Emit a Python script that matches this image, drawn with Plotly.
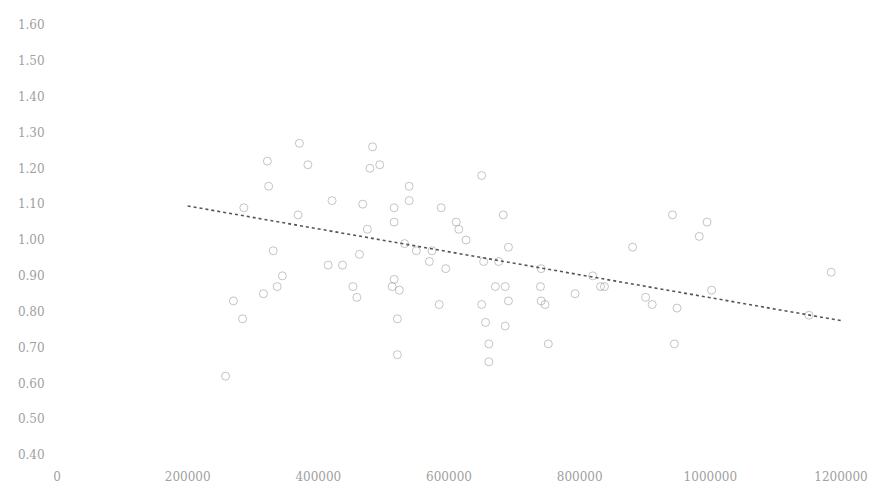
import plotly.graph_objects as go

# Scatter data (x = value, y = ratio)
x_vals = [
    371000, 483000, 322000, 384000, 494000, 479000, 324000, 539000, 421000, 539000,
    286000, 369000, 468000, 516000, 588000, 516000, 475000, 532000, 550000, 574000,
    331000, 437000, 516000, 513000, 570000, 524000, 463000, 415000, 650000, 611000,
    683000, 615000, 626000, 691000, 676000, 653000, 595000, 741000, 820000, 671000,
    686000, 740000, 793000, 585000, 650000, 691000, 741000, 911000, 656000, 686000,
    832000, 901000, 661000, 661000, 752000, 881000, 747000, 942000, 995000, 983000,
    1185000, 949000, 1151000, 945000, 1002000, 345000, 337000, 453000, 459000, 270000,
    316000, 284000, 521000, 521000, 258000, 838000,
]
y_vals = [
    1.27, 1.26, 1.22, 1.21, 1.21, 1.20, 1.15, 1.15, 1.11, 1.11,
    1.09, 1.07, 1.10, 1.09, 1.09, 1.05, 1.03, 0.99, 0.97, 0.97,
    0.97, 0.93, 0.89, 0.87, 0.94, 0.86, 0.96, 0.93, 1.18, 1.05,
    1.07, 1.03, 1.00, 0.98, 0.94, 0.94, 0.92, 0.92, 0.90, 0.87,
    0.87, 0.87, 0.85, 0.82, 0.82, 0.83, 0.83, 0.82, 0.77, 0.76,
    0.87, 0.84, 0.71, 0.66, 0.71, 0.98, 0.82, 1.07, 1.05, 1.01,
    0.91, 0.81, 0.79, 0.71, 0.86, 0.90, 0.87, 0.87, 0.84, 0.83,
    0.85, 0.78, 0.78, 0.68, 0.62, 0.87,
]

# Linear trendline end points
trend_x = [200000, 1200000]
trend_y = [1.095, 0.775]

x_ticks = [0, 200000, 400000, 600000, 800000, 1000000, 1200000]
y_ticks = [0.40, 0.50, 0.60, 0.70, 0.80, 0.90, 1.00, 1.10, 1.20, 1.30, 1.40, 1.50, 1.60]

fig = go.Figure()
fig.add_trace(go.Scatter(
    x=x_vals, y=y_vals, mode="markers",
    marker=dict(symbol="circle-open", size=8, color="rgba(140,140,140,0.5)",
                line=dict(width=1)),
    showlegend=False, hoverinfo="skip",
))
fig.add_trace(go.Scatter(
    x=trend_x, y=trend_y, mode="lines",
    line=dict(color="#555555", width=1.6, dash="dot"),
    showlegend=False, hoverinfo="skip",
))

fig.update_layout(
    width=870, height=486,
    margin=dict(l=47, r=33, t=10, b=32),
    paper_bgcolor="white", plot_bgcolor="white",
    font=dict(family="DejaVu Serif", size=12, color="#a0a0a0"),
    xaxis=dict(range=[0, 1200000], tickvals=x_ticks, ticktext=[str(v) for v in x_ticks],
               showgrid=False, zeroline=False, showline=False, ticklabeloverflow="allow",
               ticks="outside", ticklen=11, tickcolor="rgba(0,0,0,0)"),
    yaxis=dict(range=[0.40, 1.60], tickvals=y_ticks, ticktext=[f"{v:.2f}" for v in y_ticks],
               showgrid=False, zeroline=False, showline=False,
               ticks="outside", ticklen=9, tickcolor="rgba(0,0,0,0)"),
)

fig.write_html("out.html")
